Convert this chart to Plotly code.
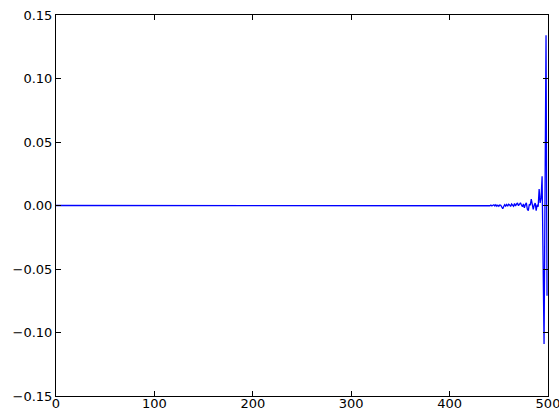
import plotly.graph_objects as go

# Sample index 0..499; signal is essentially zero until ~440, then grows noisy near the end
n_points = 500
tail_start = 440
tail_values = [
    0.0003, -0.0002, 0.0004, -0.0003, 0.0002, 0.0005, -0.0004, 0.0006, -0.0005, 0.0003,   # 440-449
    -0.0006, 0.0004, 0.0002, -0.0010, -0.0026, -0.0008, 0.0006, -0.0004, 0.0008, -0.0006,  # 450-459
    0.0010, 0.0004, -0.0008, 0.0012, 0.0002, -0.0006, 0.0016, -0.0004, 0.0010, 0.0020,     # 460-469
    -0.0002, 0.0014, 0.0021, 0.0004, -0.0010, 0.0012, -0.0018, 0.0008, 0.0020, -0.0030,   # 470-479
    -0.0040, 0.0010, 0.0002, 0.0050, 0.0006, -0.0030, 0.0004, 0.0020, -0.0040, 0.0008,    # 480-489
    -0.0010, 0.0130, 0.0020, 0.0060, 0.0230, -0.0420, -0.1090, 0.0120, 0.1340, -0.0710,   # 490-499
]
x_values = list(range(n_points))
y_values = [0.0] * tail_start + tail_values

y_tick_vals = [-0.15, -0.10, -0.05, 0.00, 0.05, 0.10, 0.15]
x_tick_vals = [0, 100, 200, 300, 400, 500]

fig = go.Figure()
fig.add_trace(go.Scatter(
    x=x_values, y=y_values, mode="lines",
    line=dict(color="#0000FF", width=1.3),
    showlegend=False, hoverinfo="skip",
))

axis_common = dict(
    showline=True, linecolor="black", linewidth=1, mirror="allticks",
    ticks="inside", ticklen=5, tickcolor="black", tickwidth=1,
    showgrid=False, zeroline=False, automargin=False,
    ticklabeloverflow="allow",
    tickfont=dict(family="DejaVu Sans", size=13, color="black"),
)

fig.update_layout(
    width=559, height=410,
    margin=dict(l=56, r=11, t=15, b=14, autoexpand=False),
    paper_bgcolor="white", plot_bgcolor="white",
    xaxis=dict(range=[0, 500], tickvals=x_tick_vals, ticklabelstandoff=-5, **axis_common),
    yaxis=dict(range=[-0.15, 0.15], tickvals=y_tick_vals, tickformat=".2f", **axis_common),
)

fig.write_html(
    "out.html",
    config={"displayModeBar": False},
    post_script="document.body.style.margin='0';document.body.style.overflow='hidden';",
)
